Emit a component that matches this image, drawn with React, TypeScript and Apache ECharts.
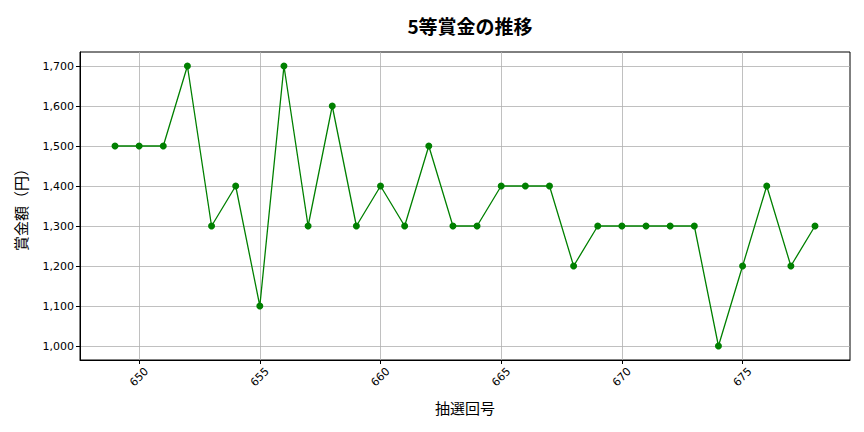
import React, { useEffect, useRef } from 'react';
import * as echarts from 'echarts';

// 抽選回号と5等賞金
const drawNumbers = [
  649, 650, 651, 652, 653, 654, 655, 656, 657, 658,
  659, 660, 661, 662, 663, 664, 665, 666, 667, 668,
  669, 670, 671, 672, 673, 674, 675, 676, 677, 678,
];
const prizes = [
  1500, 1500, 1500, 1700, 1300, 1400, 1100, 1700, 1300, 1600,
  1300, 1400, 1300, 1500, 1300, 1300, 1400, 1400, 1400, 1200,
  1300, 1300, 1300, 1300, 1300, 1000, 1200, 1400, 1200, 1300,
];
const xTicks = [650, 655, 660, 665, 670, 675];
const yTicks = [1000, 1100, 1200, 1300, 1400, 1500, 1600, 1700];

const TICK_FONT = 'DejaVu Sans';
const JP_FONT = 'Noto Sans CJK JP';

const App: React.FC = () => {
  const chartRef = useRef<HTMLDivElement | null>(null);

  useEffect(() => {
    if (!chartRef.current) return;
    const chart = echarts.init(chartRef.current, null, { renderer: 'svg' });

    // matplotlib-style 5% margins
    const xPad = (drawNumbers[drawNumbers.length - 1] - drawNumbers[0]) * 0.05;
    const yMinV = Math.min(...prizes);
    const yMaxV = Math.max(...prizes);
    const yPad = (yMaxV - yMinV) * 0.05;

    chart.setOption({
      animation: false,
      backgroundColor: '#ffffff',
      title: {
        text: '5等賞金の推移',
        left: 465,
        textAlign: 'center',
        top: 11,
        textStyle: { fontFamily: JP_FONT, fontSize: 19, fontWeight: 'bold', color: '#000' },
      },
      grid: {
        left: 80,
        right: 14,
        top: 52,
        bottom: 72,
        show: true,
        borderColor: '#000',
        borderWidth: 1,
        backgroundColor: 'transparent',
      },
      xAxis: {
        type: 'value',
        min: drawNumbers[0] - xPad,
        max: drawNumbers[drawNumbers.length - 1] + xPad,
        name: '抽選回号',
        nameLocation: 'middle',
        nameGap: 40,
        nameTextStyle: { fontFamily: JP_FONT, fontSize: 15, color: '#000' },
        axisLine: { show: true, lineStyle: { color: '#000' } },
        axisTick: { show: true, length: 4, lineStyle: { color: '#000' }, customValues: xTicks },
        axisLabel: {
          customValues: xTicks,
          rotate: 45,
          align: 'center',
          verticalAlign: 'middle',
          fontFamily: TICK_FONT,
          fontSize: 11,
          color: '#000',
          margin: 17,
        },
        splitLine: { show: true, lineStyle: { color: '#b0b0b0', width: 0.8 } },
      },
      yAxis: {
        type: 'value',
        min: yMinV - yPad,
        max: yMaxV + yPad,
        name: '賞金額（円）',
        nameLocation: 'middle',
        nameGap: 52,
        nameTextStyle: { fontFamily: JP_FONT, fontSize: 15, color: '#000' },
        axisLine: { show: true, lineStyle: { color: '#000' } },
        axisTick: { show: true, length: 4, lineStyle: { color: '#000' }, customValues: yTicks },
        axisLabel: {
          customValues: yTicks,
          fontFamily: TICK_FONT,
          fontSize: 11,
          color: '#000',
          margin: 6,
          formatter: (v: number) => v.toLocaleString('en-US'),
        },
        splitLine: { show: true, lineStyle: { color: '#b0b0b0', width: 0.8 } },
      },
      series: [
        {
          type: 'line',
          data: drawNumbers.map((n, i) => [n, prizes[i]]),
          symbol: 'circle',
          symbolSize: 7,
          lineStyle: { color: '#008000', width: 1.3 },
          itemStyle: { color: '#008000' },
        },
      ],
    });

    return () => {
      chart.dispose();
    };
  }, []);

  return (
    <div
      ref={chartRef}
      style={{ position: 'fixed', left: 0, top: 0, width: 864, height: 432 }}
    />
  );
};

export default App;
